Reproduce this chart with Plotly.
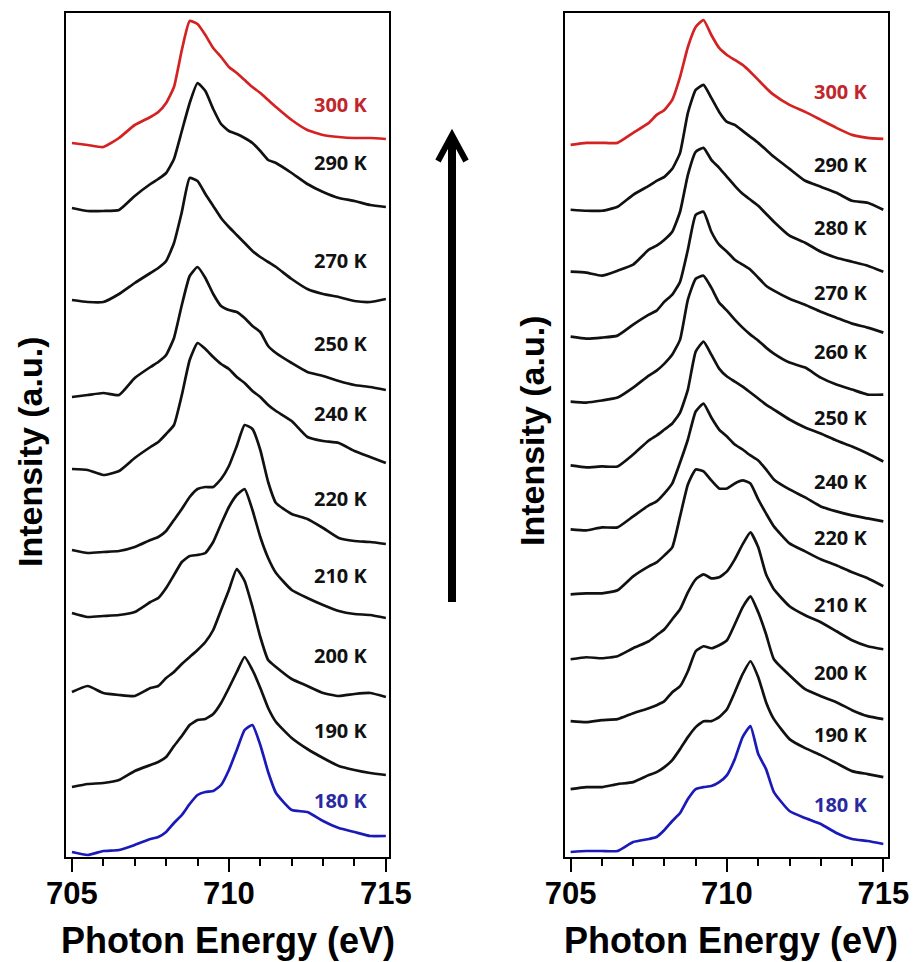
import plotly.graph_objects as go

# Photon energy grid (eV)
energy = [705, 705.5, 706, 706.5, 707, 707.5, 707.75, 708, 708.25, 708.5, 708.75,
          709, 709.25, 709.5, 709.75, 710, 710.25, 710.5, 710.75, 711, 711.25,
          711.5, 712, 712.5, 713, 713.5, 714, 714.5, 715]

# ---- Left panel spectra (stacked intensity, a.u.) ----
L300 = [714, 712, 710, 719, 732, 740, 745, 754, 770, 807, 836, 833, 822, 809, 800, 790, 784, 777, 770, 764, 757, 750, 737, 727, 722, 720, 719, 719, 718]
L290 = [649, 646, 646, 647, 661, 673, 678, 684, 698, 726, 754, 774, 766, 748, 733, 726, 723, 719, 714, 706, 697, 694, 684, 673, 665, 659, 656, 652, 650]
L270 = [557, 555, 555, 563, 574, 584, 589, 596, 614, 645, 679, 676, 663, 651, 639, 630, 622, 614, 606, 600, 595, 590, 578, 568, 563, 560, 556, 555, 558]
L250 = [460, 462, 464, 462, 479, 490, 495, 502, 519, 552, 581, 590, 579, 563, 551, 547, 545, 539, 531, 525, 511, 504, 494, 485, 481, 476, 472, 470, 467]
L240 = [388, 387, 382, 386, 399, 410, 415, 423, 432, 462, 497, 514, 508, 500, 493, 488, 480, 474, 466, 460, 452, 446, 436, 420, 416, 414, 406, 400, 394]
L220 = [307, 304, 305, 306, 310, 317, 320, 326, 337, 348, 360, 368, 370, 370, 378, 391, 411, 432, 428, 407, 375, 354, 343, 338, 329, 319, 316, 315, 313]
L210 = [244, 240, 241, 242, 245, 255, 259, 269, 282, 295, 301, 302, 304, 315, 333, 350, 362, 368, 347, 320, 299, 284, 267, 259, 252, 246, 243, 242, 239]
L200 = [165, 171, 164, 162, 161, 169, 171, 179, 185, 193, 200, 207, 215, 227, 247, 267, 288, 276, 250, 220, 197, 190, 178, 171, 164, 161, 163, 164, 160]
L190 = [70, 73, 74, 77, 86, 92, 95, 100, 111, 121, 132, 137, 138, 143, 154, 169, 185, 200, 187, 169, 149, 135, 119, 108, 99, 91, 87, 84, 82]
L180 = [5, 2, 6, 7, 12, 18, 20, 25, 34, 42, 53, 62, 65, 66, 72, 87, 107, 127, 132, 112, 85, 64, 47, 45, 36, 29, 25, 21, 21]

left_temps = ["300 K", "290 K", "270 K", "250 K", "240 K", "220 K", "210 K", "200 K", "190 K", "180 K"]
left_series = [L300, L290, L270, L250, L240, L220, L210, L200, L190, L180]
left_label_y = [752, 694, 597, 514, 444, 359, 282, 202, 127, 57]

# ---- Right panel spectra (stacked intensity, a.u.) ----
R300 = [713, 715, 715, 715, 725, 735, 743, 748, 758, 781, 811, 831, 838, 823, 810, 803, 798, 793, 786, 778, 770, 763, 753, 746, 738, 730, 723, 720, 719]
R290 = [648, 647, 647, 651, 663, 672, 677, 681, 689, 705, 745, 768, 773, 760, 746, 736, 733, 727, 721, 715, 708, 701, 689, 677, 671, 665, 657, 655, 648]
R280 = [586, 585, 582, 587, 593, 608, 612, 618, 626, 646, 683, 706, 710, 698, 690, 681, 672, 664, 658, 652, 644, 636, 622, 615, 606, 600, 596, 592, 586]
R270 = [521, 519, 520, 522, 533, 543, 547, 556, 563, 576, 608, 643, 646, 626, 613, 606, 598, 593, 588, 580, 572, 567, 559, 553, 546, 540, 534, 530, 525]
R260 = [456, 455, 457, 460, 470, 482, 487, 494, 503, 518, 558, 579, 582, 570, 555, 547, 538, 530, 523, 517, 510, 504, 495, 490, 480, 473, 468, 463, 463]
R250 = [392, 390, 391, 391, 403, 417, 422, 428, 434, 445, 468, 506, 516, 503, 489, 481, 476, 471, 465, 459, 453, 448, 438, 430, 424, 417, 411, 404, 396]
R240 = [328, 327, 330, 330, 341, 352, 356, 364, 374, 395, 418, 446, 454, 440, 428, 421, 413, 408, 402, 397, 388, 378, 368, 360, 351, 346, 342, 339, 336]
R220 = [263, 264, 264, 267, 281, 291, 295, 302, 310, 341, 373, 388, 386, 377, 369, 369, 374, 377, 374, 358, 344, 331, 314, 306, 298, 292, 285, 279, 271]
R210 = [198, 200, 199, 201, 209, 216, 222, 228, 238, 248, 265, 278, 283, 279, 280, 286, 298, 313, 325, 310, 283, 268, 251, 242, 235, 226, 217, 211, 208]
R200 = [136, 135, 137, 138, 144, 149, 152, 156, 165, 171, 186, 206, 211, 209, 212, 217, 233, 250, 261, 245, 223, 198, 182, 168, 161, 155, 147, 141, 138]
R190 = [68, 70, 70, 73, 75, 82, 85, 90, 97, 108, 120, 130, 136, 136, 140, 148, 165, 183, 196, 180, 155, 138, 118, 109, 102, 94, 86, 83, 80]
R180 = [5, 6, 6, 6, 15, 18, 20, 27, 36, 44, 58, 68, 70, 71, 75, 82, 98, 120, 131, 103, 88, 65, 46, 39, 33, 24, 18, 16, 13]

right_temps = ["300 K", "290 K", "280 K", "270 K", "260 K", "250 K", "240 K", "220 K", "210 K", "200 K", "190 K", "180 K"]
right_series = [R300, R290, R280, R270, R260, R250, R240, R220, R210, R200, R190, R180]
right_label_y = [766, 693, 630, 565, 506, 440, 376, 320, 253, 185, 123, 53]

x_ticks = [705, 710, 715]

LINE = {"300 K": "#d42222", "180 K": "#1a1ab8"}
TEXT = {"300 K": "#c0262b", "180 K": "#2a2aa0"}

fig = go.Figure()

def add_panel(temps, series, label_y, xa, ya, label_x):
    for t, vals, ly in zip(temps, series, label_y):
        fig.add_trace(go.Scatter(
            x=energy, y=vals, mode="lines",
            line=dict(color=LINE.get(t, "#111111"), width=2.7,
                      shape="spline", smoothing=0.45),
            xaxis=xa, yaxis=ya, showlegend=False, hoverinfo="skip"))
        fig.add_annotation(
            x=label_x, y=ly, xref=xa, yref=ya, text=t, showarrow=False,
            xanchor="right", yanchor="middle",
            font=dict(family="Open Sans", size=20, weight="bold",
                      color=TEXT.get(t, "#111111")))

add_panel(left_temps, left_series, left_label_y, "x", "y", 714.5)
add_panel(right_temps, right_series, right_label_y, "x2", "y2", 714.57)

def xaxis_style(domain, rng, anchor):
    return dict(
        domain=domain, range=rng, anchor=anchor, automargin=False,
        showline=True, linecolor="black", linewidth=2.2, mirror=True,
        showgrid=False, zeroline=False,
        tickmode="array", tickvals=x_ticks, ticktext=[str(v) for v in x_ticks],
        ticks="outside", ticklen=13, tickwidth=2, tickcolor="black",
        ticklabelstandoff=-5,
        minor=dict(tick0=705, dtick=1, ticks="outside", ticklen=7,
                   tickwidth=2, tickcolor="black", showgrid=False),
        tickfont=dict(family="Liberation Sans", size=31, weight="bold", color="black"))

def yaxis_style(domain, rng, anchor):
    return dict(
        domain=domain, range=rng, anchor=anchor, automargin=False,
        showline=True, linecolor="black", linewidth=2.2, mirror=True,
        showgrid=False, zeroline=False, showticklabels=False, ticks="")

ydom = [1 - 857 / 962, 1 - 13 / 962]
fig.update_layout(
    width=920, height=962,
    margin=dict(l=0, r=0, t=0, b=0, pad=0, autoexpand=False),
    paper_bgcolor="white", plot_bgcolor="white",
    xaxis=xaxis_style([66 / 920, 389 / 920], [704.81, 715.1], "y"),
    yaxis=yaxis_style(ydom, [0, 844], "x"),
    xaxis2=xaxis_style([565 / 920, 888 / 920], [704.82, 715.15], "y2"),
    yaxis2=yaxis_style(ydom, [0, 845], "x2"),
)

xtitle_font = dict(family="Liberation Sans", size=36, weight="bold", color="black")
ytitle_font = dict(family="Liberation Sans", size=34, weight="bold", color="black")
fig.add_annotation(x=228 / 920, y=1 - 940 / 962, xref="paper", yref="paper",
                   text="Photon Energy (eV)", showarrow=False,
                   xanchor="center", yanchor="middle", font=xtitle_font)
fig.add_annotation(x=731 / 920, y=1 - 940 / 962, xref="paper", yref="paper",
                   text="Photon Energy (eV)", showarrow=False,
                   xanchor="center", yanchor="middle", font=xtitle_font)
fig.add_annotation(x=30 / 920, y=1 - 452 / 962, xref="paper", yref="paper",
                   text="Intensity (a.u.)", showarrow=False, textangle=-90,
                   xanchor="center", yanchor="middle", font=ytitle_font)
fig.add_annotation(x=532 / 920, y=1 - 431 / 962, xref="paper", yref="paper",
                   text="Intensity (a.u.)", showarrow=False, textangle=-90,
                   xanchor="center", yanchor="middle", font=ytitle_font)

# Temperature-direction arrow between the panels
fig.add_shape(type="line", xref="paper", yref="paper",
              x0=452 / 920, x1=452 / 920, y0=1 - 602 / 962, y1=1 - 138 / 962,
              line=dict(color="black", width=8))
fig.add_shape(type="path", xref="paper", yref="paper",
              path=f"M {438/920},{1-161/962} L {452/920},{1-135/962} L {466/920},{1-161/962}",
              line=dict(color="black", width=6))

fig.write_html("out.html", config={"displayModeBar": False},
               post_script="document.body.style.margin='0';")
